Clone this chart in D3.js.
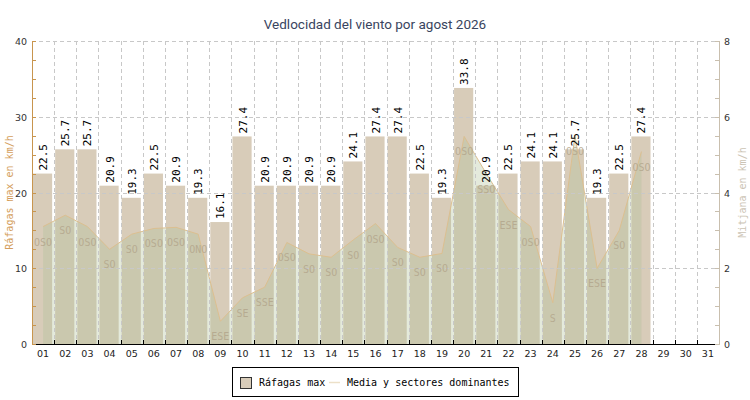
<!DOCTYPE html>
<html>
<head>
<meta charset="utf-8">
<script src="https://cdn.jsdelivr.net/npm/d3@7"></script>
<style>
  body { margin: 0; background: #fff; }
</style>
</head>
<body>
<div id="chart"></div>
<script>
const days = ['01','02','03','04','05','06','07','08','09','10','11','12','13','14','15','16',
    '17','18','19','20','21','22','23','24','25','26','27','28','29','30','31'];
const gusts = [22.5, 25.7, 25.7, 20.9, 19.3, 22.5, 20.9, 19.3, 16.1, 27.4, 20.9, 20.9, 20.9, 20.9,
    24.1, 27.4, 27.4, 22.5, 19.3, 33.8, 20.9, 22.5, 24.1, 24.1, 25.7, 19.3, 22.5, 27.4];
const meanSpeed = [3.1, 3.4, 3.1, 2.5, 2.9, 3.05, 3.08, 2.9, 0.6, 1.22, 1.5, 2.68, 2.38, 2.29,
    2.75, 3.18, 2.55, 2.29, 2.39, 5.48, 4.5, 3.55, 3.1, 1.09, 5.5, 2.0, 3.0, 5.08];
const sectors = ['OSO','SO','OSO','SO','SO','OSO','OSO','ONO','ESE','SE','SSE','OSO','SO','SO',
    'SO','OSO','SO','SO','SO','OSO','SSO','ESE','OSO','S','OSO','ESE','SO','OSO'];
const leftTicks = [0, 10, 20, 30, 40];
const rightTicks = [0, 2, 4, 6, 8];

const width = 750, height = 400;
const plotLeft = 32, plotRight = 719, plotTop = 41, plotBottom = 344;

const svg = d3.select('#chart').append('svg')
    .attr('width', width)
    .attr('height', height)
    .style('font-family', 'DejaVu Sans Mono, monospace');

const x = d3.scaleBand().domain(days).range([plotLeft, plotRight]).padding(0);
const yL = d3.scaleLinear().domain([0, 40]).range([plotBottom, plotTop]);
const yR = d3.scaleLinear().domain([0, 8]).range([plotBottom, plotTop]);
const bw = x.bandwidth();

// title
svg.append('text')
    .attr('x', 375).attr('y', 29)
    .attr('text-anchor', 'middle')
    .style('font-family', 'Roboto, sans-serif')
    .style('font-size', '13.5px')
    .attr('fill', '#39445e')
    .text('Vedlocidad del viento por agost 2026');

// bars
svg.selectAll('rect.bar').data(gusts).enter().append('rect')
    .attr('class', 'bar')
    .attr('x', (d, i) => x(days[i]) + 1)
    .attr('width', bw - 3)
    .attr('y', d => yL(d))
    .attr('height', d => plotBottom - yL(d))
    .attr('fill', '#d8ccb9');

// mean area (right scale)
const area = d3.area()
    .x((d, i) => x(days[i]) + bw / 2)
    .y0(plotBottom)
    .y1(d => yR(d));
svg.append('path')
    .datum(meanSpeed)
    .attr('d', area)
    .attr('fill', 'rgb(176,193,152)')
    .attr('fill-opacity', 0.34);

svg.append('path')
    .datum(meanSpeed)
    .attr('d', d3.line().x((d, i) => x(days[i]) + bw / 2).y(d => yR(d)))
    .attr('fill', 'none')
    .attr('stroke', '#dcbf90')
    .attr('stroke-width', 1);

// grid
const grid = svg.append('g')
    .attr('stroke', '#c8c8c8')
    .attr('stroke-dasharray', '4,3')
    .attr('stroke-width', 1);
leftTicks.slice(1).forEach(t => {
    grid.append('line')
        .attr('x1', plotLeft).attr('x2', plotRight)
        .attr('y1', Math.round(yL(t)) + 0.5).attr('y2', Math.round(yL(t)) + 0.5);
});
days.slice(1).forEach(d => {
    const gx = Math.round(x(d)) + 0.5;
    grid.append('line')
        .attr('x1', gx).attr('x2', gx)
        .attr('y1', plotTop).attr('y2', plotBottom);
});

// sector labels
svg.selectAll('text.sector').data(meanSpeed).enter().append('text')
    .attr('class', 'sector')
    .attr('x', (d, i) => x(days[i]) + bw / 2)
    .attr('y', d => yR(d) + 19)
    .attr('text-anchor', 'middle')
    .style('font-size', '10px')
    .attr('fill', '#b3a68c')
    .attr('fill-opacity', 0.85)
    .text((d, i) => sectors[i]);

// bar value labels (rotated)
svg.selectAll('text.val').data(gusts).enter().append('text')
    .attr('class', 'val')
    .attr('transform', (d, i) => `translate(${x(days[i]) + bw / 2 + 4},${yL(d) - 3}) rotate(-90)`)
    .style('font-size', '11px')
    .attr('fill', '#000')
    .text(d => d.toFixed(1));

// x axis
svg.append('line')
    .attr('x1', plotLeft).attr('x2', plotRight)
    .attr('y1', plotBottom + 0.5).attr('y2', plotBottom + 0.5)
    .attr('stroke', '#000');
days.slice(1).forEach(d => {
    const gx = Math.round(x(d)) + 0.5;
    svg.append('line')
        .attr('x1', gx).attr('x2', gx)
        .attr('y1', plotBottom).attr('y2', plotBottom - 4)
        .attr('stroke', '#000');
});
svg.selectAll('text.day').data(days).enter().append('text')
    .attr('class', 'day')
    .attr('x', d => x(d) + bw / 2)
    .attr('y', plotBottom + 13)
    .attr('text-anchor', 'middle')
    .style('font-family', 'DejaVu Sans, sans-serif')
    .style('font-size', '9.5px')
    .attr('fill', '#222')
    .text(d => d);

// left axis
const leftAxis = svg.append('g');
leftAxis.append('line')
    .attr('x1', plotLeft + 0.5).attr('x2', plotLeft + 0.5)
    .attr('y1', plotTop).attr('y2', plotBottom + 1)
    .attr('stroke', '#c8954e');
d3.range(0, 40.1, 2.5).forEach(t => {
    const ty = Math.round(yL(t)) + 0.5;
    leftAxis.append('line')
        .attr('x1', plotLeft).attr('x2', plotLeft + 4)
        .attr('y1', ty).attr('y2', ty)
        .attr('stroke', '#c8954e');
});
leftTicks.forEach(t => {
    leftAxis.append('text')
        .attr('x', 27).attr('y', yL(t) + 4)
        .attr('text-anchor', 'end')
        .style('font-family', 'DejaVu Sans, sans-serif')
        .style('font-size', '9.5px')
        .attr('fill', '#333')
        .text(t);
});
svg.append('text')
    .attr('transform', `translate(13,${(plotTop + plotBottom) / 2}) rotate(-90)`)
    .attr('text-anchor', 'middle')
    .style('font-size', '10px')
    .attr('fill', '#d49e5c')
    .text('Ráfagas max en km/h');

// right axis
const rightAxis = svg.append('g');
rightAxis.append('line')
    .attr('x1', plotRight + 0.5).attr('x2', plotRight + 0.5)
    .attr('y1', plotTop).attr('y2', plotBottom + 1)
    .attr('stroke', '#c9bfae');
d3.range(0, 8.01, 0.5).forEach(t => {
    const ty = Math.round(yR(t)) + 0.5;
    rightAxis.append('line')
        .attr('x1', plotRight - 4).attr('x2', plotRight + 1)
        .attr('y1', ty).attr('y2', ty)
        .attr('stroke', '#c9bfae');
});
rightTicks.forEach(t => {
    rightAxis.append('text')
        .attr('x', 724).attr('y', yR(t) + 4)
        .style('font-family', 'DejaVu Sans, sans-serif')
        .style('font-size', '9.5px')
        .attr('fill', '#333')
        .text(t);
});
svg.append('text')
    .attr('transform', `translate(746,${(plotTop + plotBottom) / 2}) rotate(-90)`)
    .attr('text-anchor', 'middle')
    .style('font-size', '10px')
    .attr('fill', '#cbc3b4')
    .text('Mitjana en km/h');

// legend
const legend = svg.append('g');
legend.append('rect')
    .attr('x', 232.5).attr('y', 367.5)
    .attr('width', 286).attr('height', 29)
    .attr('fill', '#fff')
    .attr('stroke', '#000');
legend.append('rect')
    .attr('x', 240.5).attr('y', 377.5)
    .attr('width', 11).attr('height', 11)
    .attr('fill', '#d8ccb9')
    .attr('stroke', '#333');
legend.append('text')
    .attr('x', 259).attr('y', 386)
    .style('font-size', '10px')
    .attr('fill', '#000')
    .text('Ráfagas max');
legend.append('line')
    .attr('x1', 329).attr('x2', 340)
    .attr('y1', 382.5).attr('y2', 382.5)
    .attr('stroke', '#ece0c8')
    .attr('stroke-width', 1.5);
legend.append('text')
    .attr('x', 347).attr('y', 386)
    .style('font-size', '10px')
    .attr('fill', '#000')
    .text('Media y sectores dominantes');
</script>
</body>
</html>
